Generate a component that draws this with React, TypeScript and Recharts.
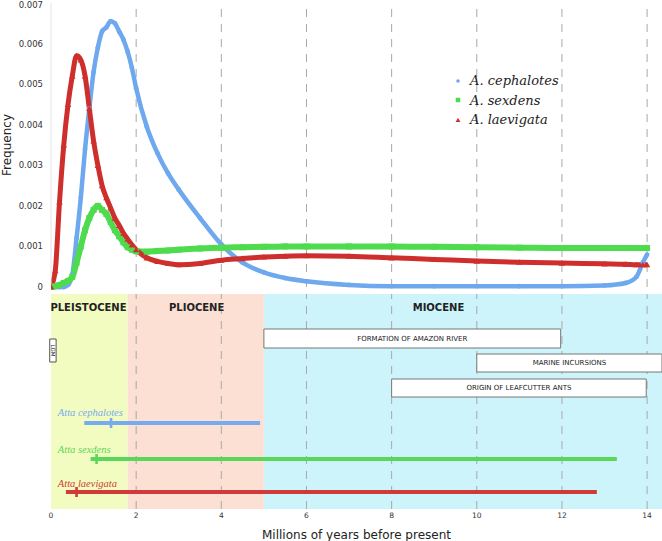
import React from 'react';
import {
  ComposedChart,
  Line,
  Scatter,
  XAxis,
  YAxis,
  ReferenceLine,
  ReferenceArea,
  ReferenceDot,
  Legend,
} from 'recharts';

// ages (Myr before present) where the frequency curves were read
const ages = [
  0, 0.1, 0.2, 0.3, 0.4, 0.5, 0.6, 0.7, 0.8, 0.9, 1.0, 1.1, 1.2, 1.3, 1.4, 1.5, 1.6, 1.7, 1.8, 1.9, 2.0,
  2.25, 2.5, 2.75, 3, 3.5, 4, 4.5, 5, 5.5, 6, 7, 8, 9, 10, 11, 12, 13, 13.5, 13.75, 13.9, 14,
];
const cephalotes = [
  0, 0, 0, 0, 0.00005, 0.0003, 0.0012, 0.0022, 0.0034, 0.0044, 0.0053, 0.0059, 0.0063, 0.0064, 0.00655, 0.0065,
  0.0063, 0.0061, 0.0058, 0.0054, 0.0049, 0.00395, 0.0033, 0.0028, 0.0024, 0.0017, 0.00105, 0.0006, 0.00036,
  0.00022, 0.00014, 0.00005, 0.00002, 0.00002, 0.00002, 0.00002, 0.00002, 0.00004, 0.0001, 0.00025, 0.0006, 0.0008,
];
const sexdens = [
  0, 0.00002, 0.00005, 0.0001, 0.00015, 0.00025, 0.0006, 0.001, 0.0014, 0.0017, 0.0019, 0.002, 0.0019, 0.0018,
  0.0016, 0.0014, 0.00125, 0.0011, 0.00098, 0.00092, 0.00088, 0.00087, 0.00089, 0.0009, 0.00092, 0.00095, 0.00097,
  0.00098, 0.00099, 0.001, 0.001, 0.001, 0.001, 0.00099, 0.00098, 0.00097, 0.00096, 0.00096, 0.00096, 0.00096,
  0.00096, 0.00096,
];
const laevigata = [
  0, 0.0004, 0.0021, 0.0035, 0.0045, 0.0052, 0.0057, 0.0056, 0.0052, 0.0044, 0.0036, 0.003, 0.0025, 0.0022,
  0.00195, 0.0017, 0.00152, 0.00133, 0.00118, 0.00104, 0.00092, 0.00072, 0.00063, 0.00058, 0.00055, 0.00058,
  0.00066, 0.0007, 0.00074, 0.00076, 0.00077, 0.00076, 0.00072, 0.00068, 0.00064, 0.00061, 0.00059, 0.00057,
  0.00056, 0.00055, 0.00055, 0.00055,
];

const yTicks = [0, 0.001, 0.002, 0.003, 0.004, 0.005, 0.006, 0.007];
const xTicks = [0, 2, 4, 6, 8, 10, 12, 14];
const gridX = [2, 4, 6, 8, 10, 12, 14];

const epochs = ['PLEISTOCENE', 'PLIOCENE', 'MIOCENE'];
const epochStart = [0, 1.8, 5.0];
const epochEnd = [1.8, 5.0, 14.35];
const epochLabelAt = [0.88, 3.42, 9.1];

const events = ['FORMATION OF AMAZON RIVER', 'MARINE INCURSIONS', 'ORIGIN OF LEAFCUTTER ANTS'];
const eventStart = [5.0, 10.0, 8.0];
const eventEnd = [11.97, 14.35, 13.98];
const lgmAge = 0.045;

const species = ['Atta cephalotes', 'Atta sexdens', 'Atta laevigata'];
const ageLow = [0.78, 0.93, 0.35];
const ageMode = [1.41, 1.07, 0.6];
const ageHigh = [4.91, 13.29, 12.82];

const legendNames = ['A. cephalotes', 'A. sexdens', 'A. laevigata'];

// styling / layout
const COLORS = ['#6ea8ee', '#4edb4e', '#cf2f2c'];
const BAR_COLORS = ['#78aaee', '#5ad65a', '#d03a3a'];
const BAND_COLORS = ['#f3fcc0', '#fde0d4', '#cdf4fb'];
const rowY = [129, 165, 198];
const labelY = [122, 159, 193];
const eventTop = [35, 60, 85];
const eventBottom = [54, 78, 103];
const SANS = 'DejaVu Sans, sans-serif';

const series = [cephalotes, sexdens, laevigata].map((vals) => ages.map((x, i) => ({ x, y: vals[i] })));

function marker(kind: number, cx: number, cy: number, color: string, s = 1) {
  if (kind === 0) return <circle cx={cx} cy={cy} r={2.4 * s} fill={color} />;
  if (kind === 1) return <rect x={cx - 3 * s} y={cy - 3 * s} width={6 * s} height={6 * s} fill={color} />;
  return <polygon points={`${cx - 3.2 * s},${cy + 2.6 * s} ${cx + 3.2 * s},${cy + 2.6 * s} ${cx},${cy - 3 * s}`} fill={color} />;
}

function LegendBox() {
  return (
    <div style={{ fontFamily: 'DejaVu Serif, serif', fontStyle: 'italic', fontSize: 13, color: '#222' }}>
      {legendNames.map((n, i) => (
        <div key={n} style={{ display: 'flex', alignItems: 'center', height: 19.5 }}>
          <svg width={12} height={12} style={{ marginRight: 6 }}>
            {marker(i, 6, 6, COLORS[i], 0.75)}
          </svg>
          <span>{n}</span>
        </div>
      ))}
    </div>
  );
}

const centerText = (text: string, size: number, bold = false) => (props: any) => {
  const { x, y, width, height } = props.viewBox;
  return (
    <text
      x={x + width / 2}
      y={y + height / 2}
      textAnchor="middle"
      dominantBaseline="central"
      fontFamily={SANS}
      fontSize={size}
      fontWeight={bold ? 'bold' : 'normal'}
      fill="#222"
    >
      {text}
    </text>
  );
};

export default function App() {
  return (
    <div style={{ position: 'absolute', left: 0, top: 0, width: 662, height: 541, background: '#fff' }}>
      <ComposedChart width={662} height={294} margin={{ top: 3, right: 0, bottom: 7, left: 0 }}>
        <XAxis type="number" dataKey="x" domain={[0, 14.35]} hide allowDataOverflow />
        <YAxis
          type="number"
          domain={[0, 0.007]}
          ticks={yTicks}
          width={51}
          tickFormatter={(v: number) => (v === 0 ? '0' : v.toFixed(3))}
          tick={{ fontSize: 8.5, fill: '#333', fontFamily: SANS }}
          tickLine={false}
          tickSize={0}
          tickMargin={8}
          axisLine={{ stroke: '#e4e4e4' }}
          label={{
            value: 'Frequency',
            angle: -90,
            position: 'insideLeft',
            offset: 7,
            fill: '#222',
            fontSize: 12,
            fontFamily: SANS,
            style: { textAnchor: 'middle' },
          }}
        />
        {gridX.map((x) => (
          <ReferenceLine key={x} x={x} stroke="#a8a8a8" strokeDasharray="8 7" />
        ))}
        {series.map((d, i) => (
          <Line
            key={legendNames[i]}
            data={d}
            dataKey="y"
            type="monotone"
            stroke={COLORS[i]}
            strokeWidth={[4.5, 6, 5][i]}
            dot={(p: any) => <g key={p.index}>{marker(i, p.cx, p.cy, COLORS[i])}</g>}
            isAnimationActive={false}
          />
        ))}
        <Legend layout="vertical" align="center" verticalAlign="middle" content={LegendBox} wrapperStyle={{ left: 452, top: 71, width: 170 }} />
      </ComposedChart>

      <ComposedChart width={662} height={247} margin={{ top: 0, right: 0, bottom: 0, left: 51 }}>
        <XAxis
          type="number"
          dataKey="x"
          domain={[0, 14.35]}
          ticks={xTicks}
          height={32}
          allowDataOverflow
          tickLine={false}
          axisLine={false}
          tickSize={0}
          tickMargin={4}
          tick={{ fontSize: 7.5, fill: '#333', fontFamily: SANS }}
          label={{
            value: 'Millions of years before present',
            position: 'insideBottom',
            offset: 2,
            fill: '#222',
            fontSize: 12,
            fontFamily: SANS,
          }}
        />
        <YAxis type="number" dataKey="y" hide domain={[0, 215]} reversed allowDataOverflow />
        {epochs.map((e, i) => (
          <ReferenceArea
            key={e}
            x1={epochStart[i]}
            x2={epochEnd[i]}
            y1={0}
            y2={215}
            fill={BAND_COLORS[i]}
            fillOpacity={1}
            stroke="none"
            ifOverflow="visible"
          />
        ))}
        {gridX.map((x) => (
          <ReferenceLine key={x} x={x} stroke="#a8a8a8" strokeDasharray="8 7" />
        ))}
        {events.map((e, i) => (
          <ReferenceArea
            key={e}
            x1={eventStart[i]}
            x2={eventEnd[i]}
            y1={eventTop[i]}
            y2={eventBottom[i]}
            fill="#fff"
            fillOpacity={1}
            stroke="#777"
            strokeWidth={1}
            ifOverflow="visible"
            zIndex={450}
            label={{ content: centerText(e, 7) }}
          />
        ))}
        <ReferenceArea
          x1={lgmAge - 0.075}
          x2={lgmAge + 0.075}
          y1={45}
          y2={68}
          fill="#fff"
          fillOpacity={1}
          stroke="#555"
          ifOverflow="visible"
          zIndex={450}
          label={{
            content: (p: any) => {
              const { x, y, width, height } = p.viewBox;
              const cx = x + width / 2;
              const cy = y + height / 2;
              return (
                <text x={cx} y={cy} transform={`rotate(90 ${cx} ${cy})`} textAnchor="middle" dominantBaseline="central" fontFamily={SANS} fontSize={5.5} fill="#222">
                  LGM
                </text>
              );
            },
          }}
        />
        {epochs.map((e, i) => (
          <ReferenceDot
            key={e}
            x={epochLabelAt[i]}
            y={13}
            r={0}
            stroke="none"
            fill="none"
            ifOverflow="visible"
            label={{ content: centerText(e, 10, true) }}
          />
        ))}
        {species.map((s, i) => (
          <ReferenceLine
            key={s}
            segment={[
              { x: ageLow[i], y: rowY[i] },
              { x: ageHigh[i], y: rowY[i] },
            ]}
            stroke={BAR_COLORS[i]}
            strokeWidth={4}
            ifOverflow="visible"
          />
        ))}
        <Scatter
          data={species.map((s, i) => ({ x: ageMode[i], y: rowY[i], i }))}
          isAnimationActive={false}
          shape={(p: any) => (
            <rect x={p.cx - 1.3} y={p.cy - 5} width={2.6} height={10} fill={BAR_COLORS[p.payload.i]} />
          )}
        />
        {species.map((s, i) => (
          <ReferenceDot
            key={s}
            x={0.16}
            y={labelY[i]}
            r={0}
            stroke="none"
            fill="none"
            ifOverflow="visible"
            label={{
              content: (p: any) => (
                <text x={p.viewBox.x} y={p.viewBox.y} fontFamily="Liberation Serif, serif" fontStyle="italic" fontSize={10.5} fill={BAR_COLORS[i]}>
                  {s}
                </text>
              ),
            }}
          />
        ))}
      </ComposedChart>
    </div>
  );
}
